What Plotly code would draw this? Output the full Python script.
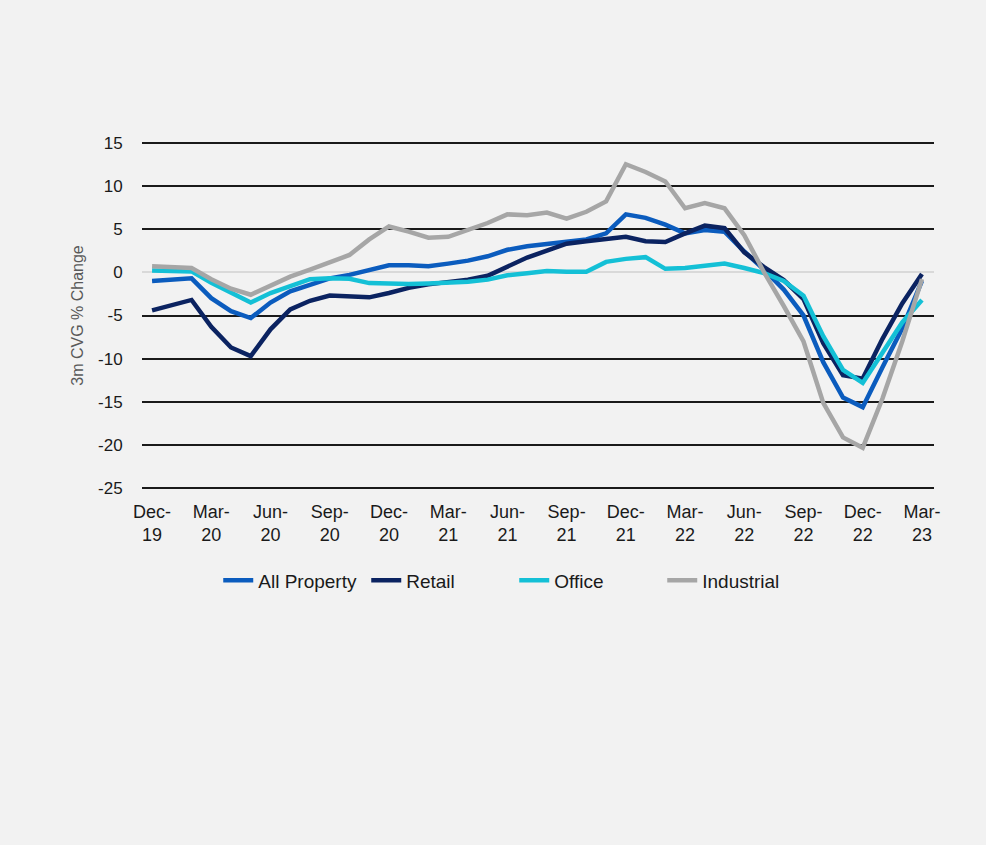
import pandas as pd
import plotly.graph_objects as go

# Monthly periods, Dec-19 through Mar-23
months = [d.strftime("%b-%y") for d in pd.date_range("2019-12-01", "2023-03-01", freq="MS")]

# Quarterly tick labels shown on the x axis
tick_months = months[::3]
tick_labels = [m.replace("-", "-<br>") for m in tick_months]

# Y axis ticks (plain hyphen for negatives)
y_ticks = [-25, -20, -15, -10, -5, 0, 5, 10, 15]
y_tick_labels = [str(v) for v in y_ticks]

# 3-month capital value growth (% change)
all_property = [-1.0, -0.9, -0.7, -3.0, -4.5, -5.3, -3.5, -2.2, -1.4, -0.7,
                -0.3, 0.2, 0.8, 0.8, 0.7, 1.0, 1.35, 1.85, 2.6, 3.0,
                3.3, 3.5, 3.8, 4.5, 6.7, 6.3, 5.5, 4.5, 4.9, 4.7,
                2.4, 0.3, -2.0, -5.0, -10.4, -14.5, -15.6, -11.0, -6.5, -1.0]
retail = [-4.4, -3.8, -3.2, -6.3, -8.7, -9.7, -6.6, -4.3, -3.3, -2.7,
          -2.8, -2.9, -2.4, -1.8, -1.4, -1.15, -0.85, -0.4, 0.7, 1.7,
          2.5, 3.3, 3.6, 3.8, 4.1, 3.6, 3.5, 4.5, 5.4, 5.1,
          2.3, 0.6, -0.9, -3.1, -8.2, -11.9, -12.3, -7.7, -3.6, -0.2]
office = [0.2, 0.15, 0.1, -1.2, -2.4, -3.5, -2.4, -1.6, -0.8, -0.7,
          -0.75, -1.25, -1.35, -1.35, -1.3, -1.2, -1.1, -0.85, -0.35, -0.1,
          0.15, 0.05, 0.05, 1.2, 1.55, 1.75, 0.4, 0.5, 0.7, 1.0,
          0.5, -0.1, -1.0, -2.7, -7.4, -11.3, -12.8, -9.2, -5.8, -3.2]
industrial = [0.7, 0.6, 0.5, -0.8, -1.9, -2.6, -1.6, -0.5, 0.3, 1.1,
              2.0, 3.8, 5.3, 4.7, 4.0, 4.1, 4.9, 5.7, 6.7, 6.6,
              6.9, 6.2, 7.0, 8.2, 12.5, 11.6, 10.5, 7.4, 8.0, 7.4,
              4.3, 0.0, -3.9, -8.0, -15.1, -19.1, -20.3, -14.6, -8.0, -0.8]

series = [
    ("All Property", all_property, "#0B5CBE"),
    ("Retail", retail, "#0B2361"),
    ("Office", office, "#14C0D6"),
    ("Industrial", industrial, "#A6A6A6"),
]

fig = go.Figure()
for name, values, color in series:
    fig.add_trace(go.Scatter(
        x=months, y=values, name=name, mode="lines",
        line=dict(color=color, width=4.5),
    ))

font_family = "Liberation Sans, Arial, sans-serif"
text_color = "#1A1A1A"

fig.update_layout(
    width=986, height=845,
    paper_bgcolor="#F2F2F2", plot_bgcolor="#F2F2F2",
    margin=dict(l=142, r=52, t=140, b=354),
    font=dict(family=font_family, size=17, color=text_color),
    showlegend=True,
    legend=dict(
        orientation="h", x=0.47, y=-0.255, xanchor="center", yanchor="middle",
        font=dict(size=19, color=text_color), bgcolor="rgba(0,0,0,0)",
        entrywidth=103, entrywidthmode="pixels",
    ),
)

fig.update_xaxes(
    type="category",
    range=[-0.51, len(months) - 1 + 0.61],
    tickmode="array", tickvals=tick_months, ticktext=tick_labels,
    showgrid=False, zeroline=False, showline=False,
    ticks="outside", ticklen=4, tickcolor="rgba(0,0,0,0)",
    tickfont=dict(size=18, color=text_color),
)

fig.update_yaxes(
    range=[-25.3, 15.3],
    tickmode="array", tickvals=y_ticks, ticktext=y_tick_labels,
    showgrid=True, gridcolor="#1A1A1A", gridwidth=1.5,
    zeroline=True, zerolinecolor="#D9D9D9", zerolinewidth=2,
    showline=False,
    ticks="outside", ticklen=15, tickcolor="rgba(0,0,0,0)",
    tickfont=dict(size=17, color=text_color),
    title=dict(text="3m CVG % Change", font=dict(size=16, color="#595959"), standoff=10),
)

fig.write_html("out.html")
